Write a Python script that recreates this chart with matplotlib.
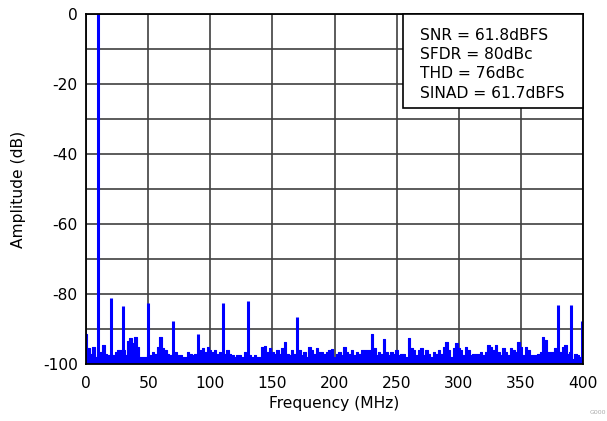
import matplotlib
matplotlib.use("Agg")
import matplotlib.pyplot as plt
from matplotlib.patches import Rectangle

# Noise floor sampled every 2 MHz from 0 to 400 MHz (dB)
noise_freqs = list(range(0, 401, 2))
noise_db = [
    -91.5, -95.5, -97.0, -95.0, -98.0, -97.0, -96.5, -94.5, -97.0, -97.5,   # 0-18
    -97.0, -97.5, -96.5, -96.0, -96.0, -96.0, -97.5, -93.5, -92.5, -94.0,   # 20-38
    -92.2, -95.0, -98.0, -98.0, -98.0, -97.0, -97.5, -96.5, -97.0, -95.0,   # 40-58
    -92.2, -95.5, -96.0, -97.0, -97.5, -97.0, -96.5, -97.5, -97.5, -98.0,   # 60-78
    -98.0, -96.5, -97.0, -97.5, -97.0, -97.0, -96.0, -95.5, -96.5, -95.0,   # 80-98
    -96.0, -96.5, -96.0, -97.0, -96.5, -97.0, -97.0, -96.0, -97.0, -97.5,   # 100-118
    -98.0, -97.5, -97.5, -98.0, -96.5, -97.0, -97.5, -98.0, -97.5, -98.0,   # 120-138
    -98.0, -95.0, -94.8, -96.5, -95.5, -96.5, -97.0, -96.0, -97.0, -95.5,   # 140-158
    -93.6, -97.0, -97.5, -96.0, -97.0, -97.0, -96.0, -97.5, -96.5, -98.0,   # 160-178
    -95.0, -96.0, -97.0, -95.5, -96.5, -96.5, -97.0, -96.5, -96.0, -95.8,   # 180-198
    -98.0, -97.0, -96.5, -97.5, -95.0, -96.5, -97.0, -96.0, -97.5, -96.5,   # 200-218
    -97.0, -96.0, -96.0, -96.0, -96.0, -91.5, -95.5, -97.5, -96.5, -97.0,   # 220-238
    -92.8, -96.5, -97.5, -96.5, -97.0, -96.0, -97.5, -97.0, -97.0, -98.0,   # 240-258
    -92.5, -95.5, -96.0, -97.5, -96.0, -95.5, -97.5, -96.0, -97.0, -98.0,   # 260-278
    -96.5, -97.0, -96.0, -97.0, -95.0, -93.8, -96.0, -98.0, -95.5, -94.0,   # 280-298
    -95.5, -96.0, -97.5, -95.0, -96.0, -97.5, -97.0, -97.0, -97.0, -96.5,   # 300-318
    -97.5, -96.5, -94.5, -95.0, -96.0, -94.5, -96.5, -97.5, -95.5, -96.5,   # 320-338
    -97.5, -95.5, -96.0, -96.5, -93.8, -95.0, -97.5, -95.0, -96.0, -97.5,   # 340-358
    -97.5, -97.5, -97.0, -96.5, -92.2, -93.0, -96.5, -96.5, -96.5, -95.5,   # 360-378
    -96.0, -96.5, -95.0, -94.5, -97.0, -96.5, -98.5, -97.0, -97.5, -98.0,   # 380-398
    -96.0,                                                                  # 400
]

# Fundamental and spurs
spur_freqs = [10, 20, 30, 50, 70, 90, 110, 130, 170, 380, 390, 399]
spur_db = [0.0, -81.0, -83.4, -82.7, -87.6, -91.4, -82.7, -82.0, -86.5, -83.1, -83.1, -87.8]

x_ticks = [0, 50, 100, 150, 200, 250, 300, 350, 400]
y_ticks = [0, -20, -40, -60, -80, -100]
y_grid = [-10, -30, -50, -70, -90]

stats_lines = ["SNR = 61.8dBFS", "SFDR = 80dBc", "THD = 76dBc", "SINAD = 61.7dBFS"]

plt.rcParams['font.family'] = ['DejaVu Sans']
FS = 11.2

fig = plt.figure(figsize=(6.07, 4.21), dpi=100)
ax = fig.add_axes([86/607, 1-364/421, (583-86)/607, (364-14)/421])

blue = '#0000FF'
ax.fill_between(noise_freqs, noise_db, -100, step='mid', color=blue, linewidth=0, zorder=3)
ax.step(noise_freqs, noise_db, where='mid', color=blue, linewidth=0.8, zorder=3)
ax.vlines(spur_freqs, -100, spur_db, color=blue, linewidth=2.2, zorder=3)

ax.set_xlim(0, 400)
ax.set_ylim(-100, 0)
ax.set_xticks(x_ticks)
ax.set_yticks(y_ticks)
ax.set_yticks(y_grid, minor=True)
ax.set_xticklabels([str(v) for v in x_ticks], fontsize=FS)
ax.set_yticklabels([str(v) for v in y_ticks], fontsize=FS)
ax.tick_params(which='both', length=0)
ax.tick_params(axis='y', pad=6)
ax.tick_params(axis='x', pad=9)
ax.grid(True, which='both', color='#404040', linewidth=1.2, zorder=1)
ax.set_axisbelow(True)
for s in ax.spines.values():
    s.set_color('black')
    s.set_linewidth(1.3)
    s.set_zorder(5)

ax.set_xlabel("Frequency (MHz)", fontsize=FS, labelpad=3)
ax.set_ylabel("Amplitude (dB)", fontsize=FS, labelpad=12)

# Statistics box anchored at the top-right corner of the axes
bx0 = (403 - 86) / 497
by0 = (364 - 108) / 350
ax.add_patch(Rectangle((bx0, by0), 1 - bx0, 1 - by0, transform=ax.transAxes,
                       facecolor='white', edgecolor='black', linewidth=1.2, zorder=6,
                       clip_on=False))
tx = (420 - 86) / 497
line_px = [35, 54.5, 74, 93.5]
for txt, ypx in zip(stats_lines, line_px):
    ax.text(tx, (364 - ypx) / 350, txt, transform=ax.transAxes, fontsize=FS,
            va='center', ha='left', zorder=7)

fig.text(0.999, 0.015, "G000", fontsize=4.5, color='#aaaaaa', ha='right', va='bottom')

fig.savefig("out.png", dpi=100)
